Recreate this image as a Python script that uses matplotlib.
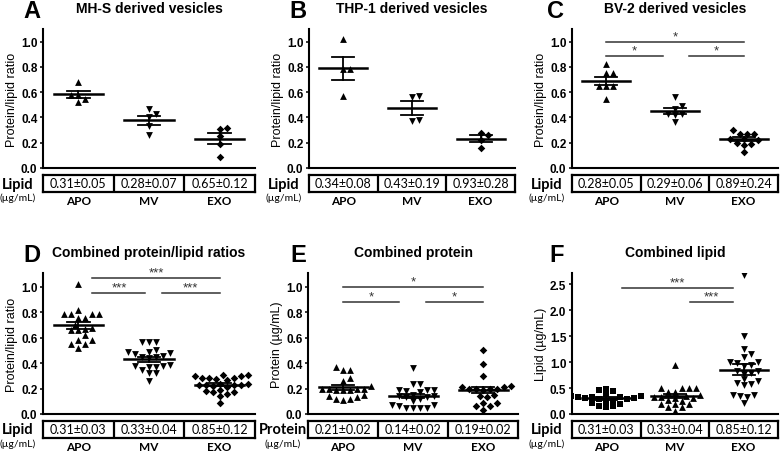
import numpy as np
import matplotlib.pyplot as plt
from matplotlib.transforms import offset_copy

# panel A - MH-S
a_apo = [0.68, 0.58, 0.58, 0.52, 0.55]
a_mv = [0.43, 0.47, 0.40, 0.33, 0.26]
a_exo = [0.32, 0.31, 0.25, 0.19, 0.09]
# panel B - THP-1
b_apo = [1.02, 0.78, 0.78, 0.57]
b_mv = [0.57, 0.565, 0.38, 0.375]
b_exo = [0.28, 0.26, 0.225, 0.155]
# panel C - BV-2
c_apo = [0.82, 0.75, 0.75, 0.65, 0.65, 0.65, 0.55]
c_mv = [0.565, 0.47, 0.49, 0.43, 0.43, 0.365, 0.42]
c_exo = [0.27, 0.27, 0.30, 0.27, 0.19, 0.20, 0.185, 0.125, 0.23, 0.23, 0.22]
# panel D - combined ratios
d_apo = [1.02, 0.79, 0.79, 0.82, 0.79, 0.79, 0.755, 0.755, 0.70, 0.67, 0.66,
         0.68, 0.66, 0.62, 0.585, 0.55, 0.52, 0.55, 0.585]
d_mv = [0.57, 0.565, 0.57, 0.48, 0.49, 0.49, 0.50, 0.475, 0.46, 0.44, 0.45,
        0.45, 0.38, 0.37, 0.385, 0.37, 0.38, 0.35, 0.32, 0.32, 0.26]
d_exo = [0.31, 0.30, 0.31, 0.30, 0.28, 0.275, 0.28, 0.27, 0.28, 0.23, 0.235,
         0.225, 0.23, 0.235, 0.23, 0.21, 0.22, 0.18, 0.175, 0.175, 0.19, 0.16,
         0.14, 0.09]
# panel E - combined protein
e_apo = [0.35, 0.35, 0.37, 0.28, 0.26, 0.22, 0.20, 0.19, 0.20, 0.20, 0.19,
         0.19, 0.15, 0.13, 0.12, 0.11, 0.12, 0.14, 0.20]
e_mv = [0.36, 0.24, 0.24, 0.19, 0.18, 0.17, 0.19, 0.19, 0.15, 0.14, 0.13,
        0.12, 0.13, 0.14, 0.10, 0.07, 0.05, 0.045, 0.045, 0.05, 0.06, 0.07]
e_exo = [0.50, 0.39, 0.30, 0.22, 0.21, 0.20, 0.20, 0.20, 0.21, 0.20, 0.19,
         0.15, 0.14, 0.13, 0.09, 0.09, 0.06, 0.06, 0.03]
# panel F - combined lipid
f_apo = [0.47, 0.49, 0.45, 0.38, 0.35, 0.33, 0.32, 0.33, 0.35, 0.30, 0.29,
         0.28, 0.26, 0.22, 0.20, 0.15, 0.13, 0.16, 0.25, 0.30]
f_mv = [0.94, 0.50, 0.50, 0.50, 0.50, 0.42, 0.42, 0.35, 0.32, 0.33, 0.30,
        0.31, 0.36, 0.27, 0.25, 0.20, 0.14, 0.20, 0.14, 0.20, 0.05]
f_exo = [2.69, 1.51, 1.25, 1.10, 1.15, 1.00, 0.98, 1.00, 0.95, 0.92, 0.82,
         0.80, 0.78, 0.82, 0.67, 0.63, 0.58, 0.56, 0.60, 0.37, 0.35, 0.32,
         0.37, 0.22]

groups = ["APO", "MV", "EXO"]
lipid_a = ["0.31±0.05", "0.28±0.07", "0.65±0.12"]
lipid_b = ["0.34±0.08", "0.43±0.19", "0.93±0.28"]
lipid_c = ["0.28±0.05", "0.29±0.06", "0.89±0.24"]
lipid_d = ["0.31±0.03", "0.33±0.04", "0.85±0.12"]
protein_e = ["0.21±0.02", "0.14±0.02", "0.19±0.02"]
lipid_f = ["0.31±0.03", "0.33±0.04", "0.85±0.12"]

# significance bars: (x start, x end, y, stars)
sig_c = [(0, 2, 1.0, "*"), (0, 0.82, 0.886, "*"), (1.2, 2, 0.886, "*")]
sig_d = [(0.2, 2, 1.068, "***"), (0.2, 0.95, 0.953, "***"), (1.18, 2, 0.953, "***")]
sig_e = [(0, 2, 1.0, "*"), (0, 0.8, 0.884, "*"), (1.19, 2, 0.884, "*")]
sig_f = [(0.23, 1.85, 2.44, "***"), (1.22, 1.85, 2.16, "***")]

W, H = 784, 452
fig = plt.figure(figsize=(W / 100, H / 100), dpi=100)
SANS = "Liberation Sans"
CAL = "Lato"


def box(l, t, r, b):
    return [l / W, 1 - b / H, (r - l) / W, (b - t) / H]


def swarm(vals, ppu_y, ppu_x, dx=7.0, dy=5.5):
    # simple deterministic beeswarm, in pixels
    ys = np.asarray(vals, float) * ppu_y
    xs = np.zeros(len(ys))
    done = []
    for i in np.argsort(ys):
        cands = [0.0]
        for k in range(1, 40):
            cands += [k * dx / 2, -k * dx / 2]
        for c in cands:
            if all(((c - xs[j]) / dx) ** 2 + ((ys[i] - ys[j]) / dy) ** 2 >= 1
                   for j in done):
                xs[i] = c
                break
        done.append(i)
    return xs / ppu_x


def panel(l, t, r, b, data, markers, sizes, ymax, yticks, ylabel, title,
          letter, tname, tvals, sig=(), lx=11):
    ax = fig.add_axes(box(l, t, r, b))
    ax.set_xlim(-0.5, 2.5)
    ax.set_ylim(0, ymax)
    ppu_y = (b - t) / ymax
    ppu_x = (r - l) / 3
    for i, (vals, m, s) in enumerate(zip(data, markers, sizes)):
        xs = swarm(vals, ppu_y, ppu_x) + i
        ax.scatter(xs, vals, marker=m, s=s, color="black", linewidths=0, zorder=3)
        mean = np.mean(vals)
        sem = np.std(vals, ddof=1) / np.sqrt(len(vals))
        ax.plot([i - 0.35, i + 0.35], [mean, mean], color="black", lw=1.8, zorder=4)
        ax.plot([i, i], [mean - sem, mean + sem], color="black", lw=1.3, zorder=4)
        for y in (mean - sem, mean + sem):
            ax.plot([i - 0.16, i + 0.16], [y, y], color="black", lw=1.3, zorder=4)
    for x0, x1, y, st in sig:
        ax.plot([x0, x1], [y, y], color="#333333", lw=1.1, zorder=2)
        tr = offset_copy(ax.transData, fig=fig, y=4, units="points")
        ax.text((x0 + x1) / 2, y, st, transform=tr, ha="center", va="center",
                fontsize=9.5, color="#333333", family=SANS)
    for sp in ("top", "right"):
        ax.spines[sp].set_visible(False)
    for sp in ("left", "bottom"):
        ax.spines[sp].set_linewidth(1.5)
    ax.set_xticks([])
    ax.set_yticks(yticks)
    ax.set_yticklabels([f"{v:.1f}" for v in yticks], fontsize=8.5,
                       fontweight="bold", family=SANS)
    ax.tick_params(axis="y", length=2.5, width=1.1, pad=1.5)
    ax.set_ylabel(ylabel, fontsize=9, family=SANS, va="center")
    ax.yaxis.set_label_coords(-31 / (r - l), 0.5)
    fig.text(((l + r) / 2) / W, 1 - (t - 17) / H, title, ha="center",
             va="baseline", fontsize=10, fontweight="bold", family=SANS)
    fig.text((l - lx) / W, 1 - (t - 12) / H, letter, ha="center", va="baseline",
             fontsize=17, fontweight="bold", family=SANS)

    tb = fig.add_axes(box(l, b + 7, r, b + 24))
    tb.set_xlim(0, 3)
    tb.set_ylim(0, 1)
    tb.set_xticks([])
    tb.set_yticks([])
    for sp in tb.spines.values():
        sp.set_linewidth(1.6)
    for k in (1, 2):
        tb.axvline(k, color="black", lw=1.6)
    for k, (g, v) in enumerate(zip(groups, tvals)):
        tb.text(k + 0.5, 0.5, v, ha="center", va="center", fontsize=9, family=CAL)
        tb.text(k + 0.5, -0.5, g, ha="center", va="center", fontsize=8.5,
                fontweight="bold", family=CAL)
    fig.text((l - 25) / W, 1 - (b + 15.5) / H, tname, ha="center", va="center",
             fontsize=10.5, fontweight="bold", family=CAL)
    fig.text((l - 25) / W, 1 - (b + 29) / H, "(µg/mL)", ha="center", va="center",
             fontsize=7.5, family=CAL)
    return ax


mk = ["^", "v", "D"]
sz = [24, 24, 15]
ratio_ticks = [0.0, 0.2, 0.4, 0.6, 0.8, 1.0]

panel(43, 30, 255, 169, [a_apo, a_mv, a_exo], mk, sz, 1.1, ratio_ticks,
      "Protein/lipid ratio", "MH-S derived vesicles", "A", "Lipid", lipid_a)
panel(309, 30, 515, 169, [b_apo, b_mv, b_exo], mk, sz, 1.1, ratio_ticks,
      "Protein/lipid ratio", "THP-1 derived vesicles", "B", "Lipid", lipid_b)
panel(572, 30, 778, 169, [c_apo, c_mv, c_exo], mk, sz, 1.1, ratio_ticks,
      "Protein/lipid ratio", "BV-2 derived vesicles", "C", "Lipid", lipid_c,
      sig_c, lx=16)
panel(43, 274, 255, 415, [d_apo, d_mv, d_exo], mk, sz, 1.11, ratio_ticks,
      "Protein/lipid ratio", "Combined protein/lipid ratios", "D", "Lipid",
      lipid_d, sig_d)
panel(308, 274, 518, 415, [e_apo, e_mv, e_exo], mk, sz, 1.11, ratio_ticks,
      "Protein (µg/mL)", "Combined protein", "E", "Protein", protein_e, sig_e,
      lx=10)
panel(572, 274, 778, 415, [f_apo, f_mv, f_exo], ["s", "^", "v"], [18, 24, 24],
      2.72, [0.0, 0.5, 1.0, 1.5, 2.0, 2.5], "Lipid (µg/mL)", "Combined lipid",
      "F", "Lipid", lipid_f, sig_f, lx=15)

fig.savefig("out.png", dpi=100)
